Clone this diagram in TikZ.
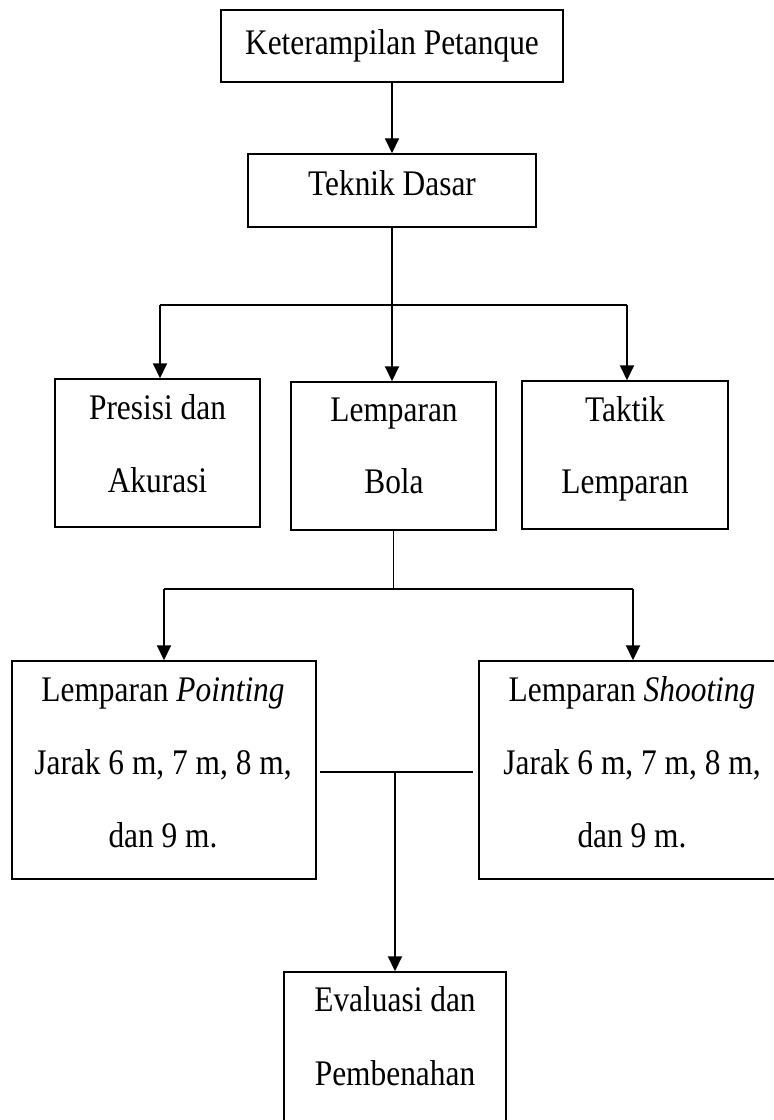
\documentclass[tikz,border=0pt]{standalone}
\usepackage{fontspec}
\setmainfont{Liberation Serif}[FakeStretch=0.872]
\usetikzlibrary{arrows.meta}
\begin{document}
\begin{tikzpicture}[x=1pt,y=-1pt,
  box/.style={draw,line width=1.5pt,rectangle,inner sep=0pt},
  lbl/.style={anchor=base,inner sep=0pt,font=\fontsize{36}{40}\selectfont},
  link/.style={line width=1.4pt},
  arr/.style={line width=2pt,-{Triangle[width=14pt,length=15pt]}}]
\useasboundingbox (0,0) rectangle (774,1120);
\fill[white] (0,0) rectangle (774,1120);

% boxes
\node[box,minimum width=342pt,minimum height=72pt] (b1) at (392,46) {};
\node[box,minimum width=288pt,minimum height=73pt] (b2) at (392,190.5) {};
\node[box,minimum width=205pt,minimum height=148pt] (b3) at (157.5,453) {};
\node[box,minimum width=205pt,minimum height=148pt] (b4) at (393.5,456) {};
\node[box,minimum width=206pt,minimum height=148pt] (b5) at (625,455) {};
\node[box,minimum width=304pt,minimum height=218pt] (b6) at (164,770) {};
\node[box,minimum width=306pt,minimum height=218pt] (b7) at (632,770) {};
\node[box,minimum width=222pt,minimum height=170pt] (b8) at (395,1057) {};

% labels
\node[lbl] (t1) at (392,54) {Keterampilan Petanque};
\node[lbl] (t2) at (392,195) {Teknik Dasar};
\node[lbl] (t3a) at (157.5,419.5) {Presisi dan};
\node[lbl] (t3b) at (157.5,492.8) {Akurasi};
\node[lbl] (t4a) at (394,421.5) {Lemparan};
\node[lbl] (t4b) at (394,493.3) {Bola};
\node[lbl] (t5a) at (625,421.5) {Taktik};
\node[lbl] (t5b) at (625,493.3) {Lemparan};
\node[lbl] (t6a) at (163,701.7) {Lemparan \textit{Pointing}};
\node[lbl] (t6b) at (163,774) {Jarak 6 m, 7 m, 8 m,};
\node[lbl] (t6c) at (163,847) {dan 9 m.};
\node[lbl] (t7a) at (632,701.7) {Lemparan \textit{Shooting}};
\node[lbl] (t7b) at (632,774) {Jarak 6 m, 7 m, 8 m,};
\node[lbl] (t7c) at (632,847) {dan 9 m.};
\node[lbl] (t8a) at (395,1011.7) {Evaluasi dan};
\node[lbl] (t8b) at (395,1085) {Pembenahan};

% connectors
\draw[arr] (b1.south) -- (b2.north);
\draw[arr] (b2.south) -- (b2.south |- b4.north);
\coordinate (h1L) at (160,305);
\coordinate (h1R) at (627,305);
\draw[link] (h1L) -- (h1R);
\draw[arr] (h1L) -- (h1L |- b3.north);
\draw[arr] (h1R) -- (h1R |- b5.north);

\coordinate (h2L) at (164,589);
\coordinate (h2R) at (633,589);
\draw[link] (b4.south) -- (b4.south |- h2L);
\draw[link] (h2L) -- (h2R);
\draw[arr] (h2L) -- (h2L |- b6.north);
\draw[arr] (h2R) -- (h2R |- b7.north);

\coordinate (h3L) at (320,772);
\coordinate (h3R) at (473,772);
\coordinate (h3M) at (395,772);
\draw[link] (h3L) -- (h3R);
\draw[arr] (h3M) -- (h3M |- b8.north);
\end{tikzpicture}
\end{document}
